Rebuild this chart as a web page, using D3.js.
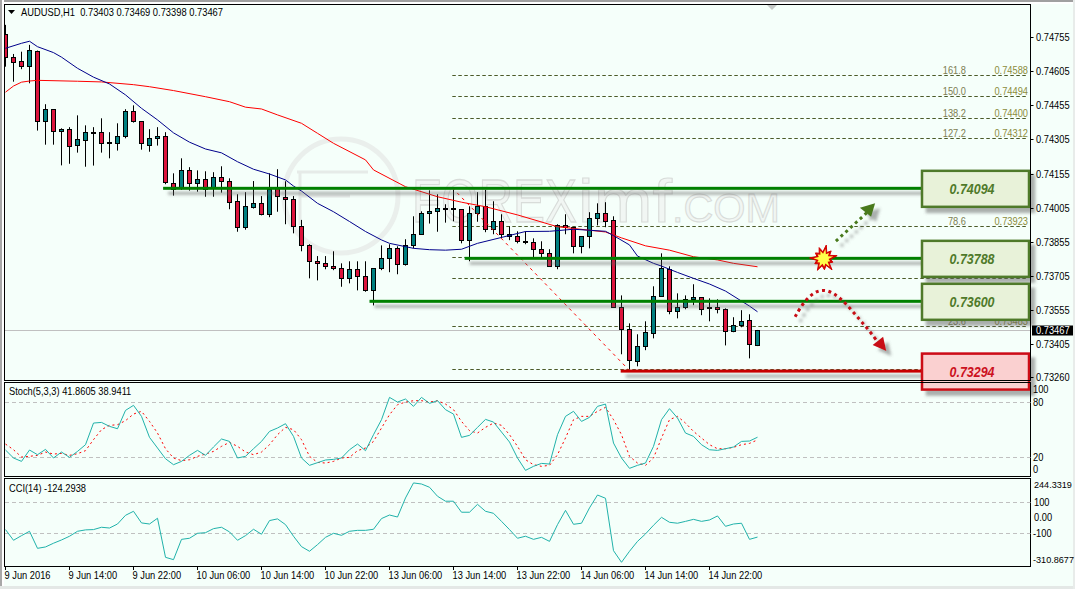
<!DOCTYPE html>
<html><head><meta charset="utf-8">
<script src="https://cdn.jsdelivr.net/npm/d3@7"></script>
<style>
html,body{margin:0;padding:0;background:#f5fffa;overflow:hidden}
svg{display:block}
text{font-family:"Liberation Sans",Arial,sans-serif;font-size:10.5px;fill:#000}
</style></head><body>
<svg id="c" width="1075" height="589"></svg>
<script>
// Prices are in points (1 point = 0.00001)
const candleOpen=[74770,74669,74651,74629,74695,74387,74440,74343,74352,74281,74303,74337,74339,74295,74290,74321,74431,74387,74281,74312,74321,74114,74094,74171,74114,74132,74094,74141,74123,74035,73921,74009,74026,73978,74094,74053,74044,73925,73841,73771,73762,73749,73740,73696,73736,73705,73643,73740,73784,73828,73758,73841,73890,73982,73991,74004,74000,74000,73863,73982,74013,73912,73947,73881,73881,73859,73855,73824,73806,73749,73929,73921,73837,73881,73960,73982,73951,73569,73472,73331,73397,73454,73617,73736,73551,73569,73604,73613,73569,73569,73560,73463,73490,73512,73403];
const candleHigh=[74811,74683,74693,74723,74698,74462,74440,74356,74361,74413,74369,74361,74400,74339,74378,74440,74457,74387,74352,74361,74339,74158,74224,74185,74171,74167,74163,74189,74136,74066,74075,74124,74058,74158,74176,74123,74058,73953,73846,73794,73794,73815,73762,73771,73771,73771,73740,73841,73846,73837,73868,73969,73991,74083,74066,74022,74085,74000,74013,74075,74085,74035,73978,73925,73903,73903,73872,73859,73824,73934,73978,73921,73881,73987,74026,74031,73969,73621,73498,73450,73507,73661,73806,73749,73630,73621,73670,73613,73608,73604,73564,73525,73556,73538,73469];
const candleLow=[74627,74561,74616,74554,74346,74284,74284,74193,74200,74249,74187,74192,74249,74224,74258,74312,74381,74262,74253,74280,74110,74060,74085,74082,74077,74055,74055,74073,74000,73901,73910,74003,73973,73965,73989,73934,73894,73815,73696,73687,73736,73732,73659,73674,73643,73637,73577,73732,73723,73714,73752,73828,73890,73937,73901,73941,73947,73850,73771,73945,73899,73890,73872,73864,73850,73846,73789,73789,73749,73736,73890,73806,73806,73828,73929,73921,73569,73362,73296,73309,73380,73432,73617,73538,73520,73560,73578,73534,73507,73542,73401,73459,73481,73344,73398];
const candleClose=[74669,74647,74629,74699,74387,74440,74343,74352,74277,74308,74339,74339,74290,74290,74321,74431,74387,74290,74312,74321,74119,74089,74171,74114,74132,74089,74141,74123,74031,73921,74013,74026,73978,74088,74053,74044,73925,73841,73771,73762,73749,73740,73696,73736,73705,73643,73740,73784,73828,73758,73841,73890,73982,73991,74004,74003,74004,73863,73982,74013,73912,73947,73890,73890,73859,73855,73824,73806,73749,73929,73921,73837,73881,73960,73982,73947,73569,73472,73335,73397,73459,73617,73740,73551,73569,73604,73613,73560,73564,73560,73463,73490,73507,73406,73467];

const blueIdx=[0,2,3,4,6,7,9,11,13,15,17,19,21,23,25,27,29,31,33,35,36,37,39,41,43,45,47,48,51,53,55,57,59,62,65,68,71,75,76,78,79,81,82,84,86,88,90,92,93,94];
const blueMA=[74708,74730,74739,74715,74689,74669,74620,74581,74551,74503,74444,74393,74336,74295,74265,74248,74209,74176,74155,74129,74102,74080,74026,73989,73946,73902,73865,73850,73828,73822,73820,73824,73850,73876,73902,73903,73912,73903,73884,73843,73794,73762,73750,73722,73696,73671,73640,73596,73574,73549];
const redIdx=[0,1,2,3,4,9,12,16,18,21,25,28,30,32,34,37,39,41,45,46,50,54,57,60,64,69,75,77,80,83,86,89,91,94];
const redMA=[74515,74542,74559,74564,74567,74563,74560,74548,74539,74522,74495,74473,74449,74441,74415,74378,74334,74290,74217,74173,74099,74055,74031,74011,73975,73923,73900,73874,73839,73820,73791,73777,73762,73747];

const stochMain=[27.9,19.2,15.5,27.9,22.8,28.6,19.2,25.7,19.9,26.4,33.7,57.3,58.0,53.7,51.1,71.1,76.6,64.6,41.7,30.1,18.4,11.9,15.5,22.1,27.5,22.1,31.2,39.9,37.3,19.2,21.0,29.3,37.3,48.2,51.9,56.6,42.8,19.2,11.2,14.1,17.0,17.7,19.2,28.2,34.4,27.2,44.6,61.0,85.3,80.2,83.5,75.5,85.3,78.8,81.7,71.9,67.1,41.7,43.9,52.6,61.3,58.4,47.5,36.6,19.2,5.7,10.1,13.3,12.6,44.6,64.6,70.1,59.1,63.5,75.5,78.0,35.5,19.2,7.9,11.2,13.7,31.9,61.0,73.0,62.8,46.4,42.8,33.7,28.2,27.5,29.3,31.2,37.3,37.7,41.86];
const stochSignal=[34.4,28.2,20.3,21.0,22.1,25.7,23.5,24.2,22.1,23.9,27.2,39.2,50.1,54.8,55.5,59.9,67.1,70.1,59.1,46.4,29.3,19.2,16.3,17.3,21.0,23.5,26.4,31.9,36.2,31.9,25.7,22.8,25.7,33.7,44.6,52.6,50.1,39.2,21.0,14.4,13.7,15.5,19.2,19.9,27.2,30.1,37.3,51.9,66.4,77.3,80.2,81.7,81.7,80.2,81.7,78.0,71.9,59.1,49.0,46.4,52.6,57.3,54.8,44.6,31.9,17.3,11.9,10.1,11.2,22.8,41.0,61.0,64.6,64.6,70.1,74.4,61.0,44.6,21.0,13.7,11.2,19.2,41.0,61.0,64.6,57.3,48.2,41.0,33.7,29.3,29.3,30.8,33.7,35.1,38.94];
const cciValues=[-76,-145,-115,-87,-197,-188,-164,-143,-119,-87,-78,-76,-61,-66,-40,16,42,-33,-40,-3,-255,-270,-139,-132,-100,-96,-70,-61,-91,-145,-115,-74,-106,-18,-7,-44,-119,-186,-216,-173,-126,-100,-113,-87,-81,-81,-74,-5,18,5,128,225,218,197,139,107,107,36,36,87,42,29,-23,-76,-132,-119,-139,-126,-152,-44,48,-42,-35,64,147,126,-212,-287,-216,-152,-104,-48,3,-29,-35,-23,-10,-23,-14,12,-55,-40,-35,-139,-124.29];

const priceTicks=[74755,74605,74455,74305,74155,74005,73855,73705,73555,73405,73260];
const timeLabels=["9 Jun 2016","9 Jun 14:00","9 Jun 22:00","10 Jun 06:00","10 Jun 14:00","10 Jun 22:00","13 Jun 06:00","13 Jun 14:00","13 Jun 22:00","14 Jun 06:00","14 Jun 14:00","14 Jun 22:00"];
const timeTickIdx=[0,8,16,24,32,40,48,56,64,72,80,88];

const fibPrices=[74588,74494,74400,74312,74094,73923,73788,73694,73600,73483,73294];
const fibLabelPrices=[74588,74494,74400,74312,73923,73694,73483];
const fibLabels=["161.8","150.0","138.2","127.2","78.6","50.0","23.6"];
const fibPriceText=["0.74588","0.74494","0.74400","0.74312","0.73923","0.73694","0.73483"];

const levelLabels=["0.74094","0.73788","0.73600","0.73294"];
const levelPrices=[74092,73784,73595,73288];
const levelStartIdx=[19.7,57.4,45.5,76.9];
const levelKinds=["up","up","up","down"];

const trendIdx=[55.85,77.9], trendPrices=[74094,73294];
const upArrowIdx=[103.8,108.3], upArrowPrices=[73860,74005];
const upHeadIdx=[108.7,106.8,108.2], upHeadPrices=[74026,74007,73967];
const downCurveIdx=[98.7,99.7,100.96,102.2,103.5,105,106.8,108.1,109.1], downCurvePrices=[73527,73588,73633,73648,73633,73588,73513,73461,73412];
const downHeadIdx=[110.1,108.4,109.7], downHeadPrices=[73376,73403,73439];
const burstIdx=102.25, burstPrice=73782;
const burstRadii=[14,7,11,7,14,7,10,7,14,7,11,7,13,7,10,7,14,7,10,7,12,7];

const W=1075,H=589,paneL=4.5,paneR=1030.5,NARROW=.885;
const svg=d3.select("#c");
const x=d3.scaleLinear().domain([0,94]).range([5.5,757.5]);
const y=d3.scaleLinear().domain([73405,74755]).range([344.5,37.6]);
const yS=d3.scaleLinear().domain([0,100]).range([475.6,383.9]);
const yC=d3.scaleLinear().domain([-100,100]).range([533.3,502.3]);
const crisp=v=>Math.round(v-.5)+.5;
// MetaTrader's UI font is narrower than Liberation: squeeze text to the same width
const narrow=sel=>sel.each(function(){const n=this.getComputedTextLength();this.setAttribute("textLength",n*NARROW);this.setAttribute("lengthAdjust","spacingAndGlyphs");});

const defs=svg.append("defs");
const f2=defs.append("filter").attr("id","sh2").attr("filterUnits","userSpaceOnUse").attr("x",0).attr("y",0).attr("width",W).attr("height",H);
f2.append("feGaussianBlur").attr("in","SourceAlpha").attr("stdDeviation",1.6).attr("result","b");
f2.append("feOffset").attr("in","b").attr("dx",5).attr("dy",5).attr("result","o");
f2.append("feFlood").attr("flood-color","#5f5f5f").attr("flood-opacity",.5);
f2.append("feComposite").attr("in2","o").attr("operator","in").attr("result","s");
const m2=f2.append("feMerge");m2.append("feMergeNode").attr("in","s");m2.append("feMergeNode").attr("in","SourceGraphic");
defs.append("clipPath").attr("id","mainClip").append("rect").attr("x",5).attr("y",5).attr("width",1025).attr("height",375);

// window chrome
svg.append("rect").attr("width",W).attr("height",H).attr("fill","#f5fffa");
svg.append("rect").attr("x",0).attr("y",0).attr("width",W).attr("height",4).attr("fill","#ffffff");
svg.append("rect").attr("x",0).attr("y",0).attr("width",W).attr("height",2).attr("fill","#a0a0a0");
svg.append("rect").attr("x",2).attr("y",0).attr("width",2).attr("height",H).attr("fill","#ffffff");
svg.append("rect").attr("x",0).attr("y",0).attr("width",2).attr("height",H).attr("fill","#a8a8a8");
svg.append("rect").attr("x",0).attr("y",586).attr("width",W).attr("height",3).attr("fill","#e4e8e6");
svg.append("rect").attr("x",1073).attr("y",0).attr("width",2).attr("height",H).attr("fill","#e8ecea");
svg.append("polygon").attr("points","767,5 777,5 772,10").attr("fill","#c4c8c6");

// watermark
const wm=svg.append("g");
wm.append("circle").attr("cx",341).attr("cy",196).attr("r",57).attr("fill","none").attr("stroke","#eaefec").attr("stroke-width",5);
wm.append("path").attr("d","M297,172H368M300,172V225M300,196H350").attr("fill","none").attr("stroke","#e6ebe8").attr("stroke-width",3);
const wmText=(t,xp,w,size,sy)=>wm.append("text").attr("transform",`translate(${xp},222) scale(1,${sy})`).attr("textLength",w).attr("lengthAdjust","spacingAndGlyphs")
  .style("font-size",size+"px").style("fill","#f1f6f3").style("stroke","#d8dcd9").style("stroke-width",1).text(t);
wmText("FOREX",412,165,48,1.27);wmText("imf",578,94,61,1);wmText(".COM",672,108,40,1);

// horizontal current-price line
svg.append("line").attr("x1",5).attr("x2",paneR).attr("y1",crisp(y(73467)+.5)).attr("y2",crisp(y(73467)+.5)).attr("stroke","#c0c0c0");

// fibo
const fib=svg.append("g");
fib.selectAll("line").data(fibPrices).join("line")
  .attr("x1",x(55.85)).attr("x2",1028).attr("y1",d=>crisp(y(d))).attr("y2",d=>crisp(y(d)))
  .attr("stroke","#4b5a28").attr("stroke-dasharray","3.5 2.5");
fib.selectAll(".a").data(fibLabels).join("text").attr("class","a").attr("x",966).attr("text-anchor","end")
  .attr("y",(d,i)=>crisp(y(fibLabelPrices[i]))-2).style("fill","#7d7d52").text(d=>d).call(narrow);
fib.selectAll(".b").data(fibPriceText).join("text").attr("class","b").attr("x",1028).attr("text-anchor","end")
  .attr("y",(d,i)=>crisp(y(fibLabelPrices[i]))-2).style("fill","#8c8c3c").text(d=>d).call(narrow);

// candles
const main=svg.append("g").attr("clip-path","url(#mainClip)");
const idx=d3.range(candleOpen.length);
main.selectAll(".wick").data(idx).join("line").attr("class","wick")
  .attr("x1",i=>x(i)).attr("x2",i=>x(i)).attr("y1",i=>y(candleHigh[i])).attr("y2",i=>y(candleLow[i]))
  .attr("stroke","#000").attr("stroke-width",1);
main.selectAll(".body").data(idx).join("rect").attr("class","body")
  .attr("x",i=>x(i)-2).attr("width",4)
  .attr("y",i=>crisp(y(Math.max(candleOpen[i],candleClose[i]))))
  .attr("height",i=>Math.max(1,Math.round(Math.abs(y(candleOpen[i])-y(candleClose[i])))))
  .attr("fill",i=>candleClose[i]>=candleOpen[i]?"#008080":"#dc143c").attr("stroke","#000");

// moving averages
const lin=(xs,ys,sy)=>d3.line().x((d,i)=>x(xs[i])).y((d,i)=>sy(ys[i]))(xs);
main.append("path").attr("d",lin(redIdx,redMA,y)).attr("fill","none").attr("stroke","#ff0000");
main.append("path").attr("d",lin(blueIdx,blueMA,y)).attr("fill","none").attr("stroke","#00008b");

// trend
svg.append("path").attr("d",lin(trendIdx,trendPrices,y)).attr("fill","none").attr("stroke","#ff0000").attr("stroke-dasharray","3 4");

// level lines
svg.selectAll(".lvl").data(levelPrices).join("rect").attr("class","lvl")
  .attr("x",(d,i)=>x(levelStartIdx[i])).attr("width",(d,i)=>921-x(levelStartIdx[i])).attr("y",d=>y(d)-1.5).attr("height",3)
  .attr("fill",(d,i)=>levelKinds[i]==="up"?"#008000":"#c80000").attr("filter","url(#sh2)");

// arrows
const ann=svg.append("g").attr("filter","url(#sh2)");
ann.append("path").attr("d",lin(upArrowIdx,upArrowPrices,y)).attr("fill","none").attr("stroke","#4a7a1e").attr("stroke-width",3).attr("stroke-dasharray","3 3.5");
ann.append("polygon").attr("points",upHeadIdx.map((v,i)=>[x(v),y(upHeadPrices[i])].join(",")).join(" ")).attr("fill","#4a7a1e");
ann.append("path").attr("d",d3.line().x((d,i)=>x(downCurveIdx[i])).y((d,i)=>y(downCurvePrices[i])).curve(d3.curveBasis)(downCurveIdx))
  .attr("fill","none").attr("stroke","#c80a14").attr("stroke-width",3).attr("stroke-dasharray","3 3.5");
ann.append("polygon").attr("points",downHeadIdx.map((v,i)=>[x(v),y(downHeadPrices[i])].join(",")).join(" ")).attr("fill","#c80a14");

// burst
const burst=k=>d3.lineRadial().angle((d,i)=>i/burstRadii.length*2*Math.PI+.2).radius(d=>d*k).curve(d3.curveLinearClosed)(burstRadii);
const bg=svg.append("g").attr("transform",`translate(${x(burstIdx)},${y(burstPrice)})`);
bg.append("path").attr("d",burst(1)).attr("fill","#d40000").attr("stroke","#d40000");
bg.append("path").attr("d",burst(.72)).attr("fill","#ffff4a");

// boxes
const box=svg.selectAll(".box").data(levelPrices).join("g").attr("class","box");
box.append("rect").attr("x",922).attr("width",107).attr("y",(d,i)=>y(d)-17.5).attr("height",36)
  .attr("fill",(d,i)=>levelKinds[i]==="up"?"#e8f2d9":"#fad0d0")
  .attr("stroke",(d,i)=>levelKinds[i]==="up"?"#4f7a2a":"#cc0a14").attr("stroke-width",2.5)
  .attr("filter","url(#sh2)");
box.append("text").attr("x",972).attr("y",d=>y(d)+5.5).attr("text-anchor","middle").attr("textLength",45).attr("lengthAdjust","spacingAndGlyphs")
  .style("font-size","15.5px").style("font-weight","bold").style("font-style","italic")
  .style("fill",(d,i)=>levelKinds[i]==="up"?"#4f7a2a":"#cc1020")
  .text((d,i)=>levelLabels[i]);

// panes
const frame=(y1,y2)=>svg.append("rect").attr("x",paneL).attr("y",y1).attr("width",paneR-paneL).attr("height",y2-y1).attr("fill","none").attr("stroke","#000");
frame(4.5,380.5);frame(382.5,476.5);frame(478.5,566.5);

// price axis
const axisG=svg.append("g");
axisG.selectAll("line").data(priceTicks).join("line").attr("x1",paneR).attr("x2",paneR+3).attr("y1",d=>crisp(y(d))).attr("y2",d=>crisp(y(d))).attr("stroke","#000");
axisG.selectAll("text").data(priceTicks).join("text").attr("x",1036).attr("y",d=>y(d)+3.5).text(d=>(d/1e5).toFixed(5)).call(narrow);
svg.append("rect").attr("x",1032).attr("y",325.5).attr("width",41).attr("height",10).attr("fill","#000");
svg.append("text").attr("x",1036).attr("y",334.3).style("fill","#fff").text("0.73467").call(narrow);
svg.append("polygon").attr("points","8,10 15,10 11.5,14").attr("fill","#000");
svg.append("text").attr("x",21).attr("y",16).attr("textLength",202).attr("lengthAdjust","spacingAndGlyphs").text("AUDUSD,H1\u00a0\u00a00.73403 0.73469 0.73398 0.73467");

// stoch
[80,20].forEach(v=>svg.append("line").attr("x1",5).attr("x2",paneR).attr("y1",crisp(yS(v))).attr("y2",crisp(yS(v))).attr("stroke","#c0c0c0").attr("stroke-dasharray","4 3"));
const stLine=(arr,sc)=>d3.line().x((d,i)=>x(i)).y(d=>sc(d))(arr);
svg.append("path").attr("d",stLine(stochSignal,yS)).attr("fill","none").attr("stroke","#ff0000").attr("stroke-dasharray","2 3");
svg.append("path").attr("d",stLine(stochMain,yS)).attr("fill","none").attr("stroke","#20b2aa");
svg.append("text").attr("x",9).attr("y",395).text("Stoch(5,3,3) 41.8605 38.9411").call(narrow);
const stochTickLabels=["100","80","20","0"], stochLabelValues=[94,80,20,7];
svg.selectAll(".sl").data(stochTickLabels).join("text").attr("class","sl").attr("x",1033).attr("y",(d,i)=>yS(stochLabelValues[i])+3.5).text(d=>d).call(narrow);

// cci
[100,-100].forEach(v=>svg.append("line").attr("x1",5).attr("x2",paneR).attr("y1",crisp(yC(v))).attr("y2",crisp(yC(v))).attr("stroke","#c0c0c0").attr("stroke-dasharray","4 3"));
svg.append("path").attr("d",stLine(cciValues,yC)).attr("fill","none").attr("stroke","#20b2aa");
svg.append("text").attr("x",9).attr("y",491.5).text("CCI(14) -124.2938").call(narrow);
const cciTickLabels=["244.3319","100","0.00","-100","-310.8677"], cciLabelValues=[212,100,0,-100,-271];
svg.selectAll(".cl").data(cciTickLabels).join("text").attr("class","cl").attr("x",d=>d[0]==="-"?1033:1034).attr("y",(d,i)=>yC(cciLabelValues[i])+3.5).text(d=>d)
  .each(function(d){ if(d.length>6){ this.style.fontSize="9.1px"; } else { d3.select(this).call(narrow); } });

// time axis
svg.selectAll(".tt").data(timeTickIdx).join("line").attr("class","tt").attr("x1",d=>x(d)).attr("x2",d=>x(d)).attr("y1",566.5).attr("y2",570).attr("stroke","#000");
svg.selectAll(".tl").data(timeLabels).join("text").attr("class","tl").attr("x",(d,i)=>x(timeTickIdx[i])-1).attr("y",579).text(d=>d).call(narrow);
</script></body></html>
